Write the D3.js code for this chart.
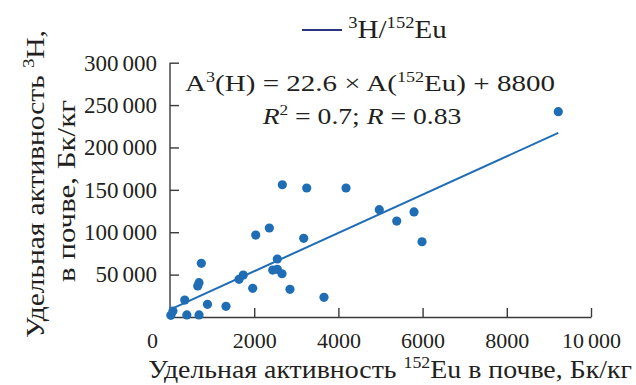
<!doctype html>
<html>
<head>
  <meta charset="utf-8">
  <script src="https://cdnjs.cloudflare.com/ajax/libs/d3/7.8.5/d3.min.js"></script>
</head>
<body style="margin:0">
<script>
// data: 152Eu activity (x) vs 3H activity (y), Bq/kg
var euActivity = [20, 70, 400, 690, 350, 890, 1330, 658, 689, 744, 1640, 1740, 1964, 2036, 2360,
                  2549, 2440, 2549, 2660, 2668, 2850, 3247, 3176, 3658, 4181, 4971, 5385, 5796, 5986, 9223];
var tritiumActivity = [2000, 7000, 2500, 2400, 20000, 15000, 12600, 36600, 40500, 63300, 44500, 49500, 33800, 96700, 105000,
                       68400, 55400, 56300, 51000, 156000, 32700, 152200, 92800, 23200, 152200, 126600, 113200, 123900, 88800, 242200];
var xTicks = [0, 2000, 4000, 6000, 8000, 10000];
var yTicks = [50000, 100000, 150000, 200000, 250000, 300000];
var fitSlope = 22.6, fitIntercept = 8800;
var fitRange = [0, 9223];

var W = 636, H = 385;
var serif = '"Liberation Serif"';
var svg = d3.select('body').append('svg')
    .attr('width', W).attr('height', H);

var x = d3.scaleLinear().domain([0, 10000]).range([170, 591]);
var y = d3.scaleLinear().domain([0, 300000]).range([317, 62.7]);

// axes, ticks pointing inward
var xAxis = svg.append('g').attr('transform', 'translate(0,' + y(0) + ')')
    .call(d3.axisBottom(x).tickValues(xTicks).tickSizeInner(-9).tickSizeOuter(0).tickPadding(15));
var yAxis = svg.append('g').attr('transform', 'translate(' + x(0) + ',0)')
    .call(d3.axisLeft(y).tickValues(yTicks).tickSizeInner(-9).tickSizeOuter(0).tickPadding(13));

// thousands split by a narrow gap, like the print
function splitLabel(sel) {
  sel.selectAll('.tick text').each(function(d){
    var t = d3.select(this), s = String(d);
    t.text(null);
    if (d < 10000) { t.text(s); return; }
    t.append('tspan').text(s.slice(0, s.length - 3));
    t.append('tspan').attr('dx', 4).text(s.slice(-3));
  });
}
[xAxis, yAxis].forEach(function(g){
  g.attr('font-family', serif).attr('font-size', 23);
  g.selectAll('path, line').attr('stroke', '#3a3a3a').attr('stroke-width', 1.4);
  splitLabel(g);
});
xAxis.attr('font-size', 22);
yAxis.select('.domain').attr('d', 'M0,' + y(0) + 'V' + y(300000));
// the single "0" sits left of the corner
xAxis.selectAll('.tick text').filter(function(d){ return d === 0; }).attr('dx', -18);

// regression line
svg.append('line')
    .attr('x1', x(fitRange[0])).attr('y1', y(fitSlope * fitRange[0] + fitIntercept))
    .attr('x2', x(fitRange[1])).attr('y2', y(fitSlope * fitRange[1] + fitIntercept))
    .attr('stroke', '#1f6db5').attr('stroke-width', 2);

// points
var pts = euActivity.map(function(v, i){ return {X: v, Y: tritiumActivity[i]}; });
svg.selectAll('circle').data(pts).enter().append('circle')
    .attr('cx', function(d){ return x(d.X); })
    .attr('cy', function(d){ return y(d.Y); })
    .attr('r', 4.6)
    .attr('fill', '#1f6db5');

// text block helper: centred at (cx, baseline cy), stretched to the printed width
function label(cx, cy, rot, width, size) {
  var t = svg.append('text').attr('x', 0).attr('y', 0)
      .attr('text-anchor', 'middle').attr('font-size', size)
      .style('font-family', serif).attr('fill', '#231f20');
  t.fit = function(){
    var k = width / t.node().getBBox().width;
    t.attr('transform', 'translate(' + cx + ',' + cy + ') rotate(' + rot + ') scale(' + k + ',1)');
    return t;
  };
  return t;
}
function sup(t, s, size) {
  t.append('tspan').attr('font-size', size).attr('dy', -size * 0.62).text(s);
  return t.append('tspan').attr('dy', size * 0.62);
}

// legend
svg.append('line').attr('x1', 302).attr('x2', 342).attr('y1', 30).attr('y2', 30)
    .attr('stroke', '#2b3282').attr('stroke-width', 2.2);
var lg = label(397.5, 38, 0, 99, 25);
sup(lg, '3', 16).text('H/');
sup(lg, '152', 16).text('Eu');
lg.fit();

// equation
var eq1 = label(370, 91, 0, 370, 24);
eq1.append('tspan').text('A');
sup(eq1, '3', 15).text('(H) = 22.6 × A(');
sup(eq1, '152', 15).text('Eu) + 8800');
eq1.fit();

var eq2 = label(362, 124, 0, 200, 24);
eq2.append('tspan').attr('font-style', 'italic').text('R');
sup(eq2, '2', 15).text(' = 0.7; ');
eq2.append('tspan').attr('font-style', 'italic').text('R');
eq2.append('tspan').text(' = 0.83');
eq2.fit();

// axis titles
var xt = label(390, 378, 0, 484, 25);
xt.append('tspan').text('Удельная активность ');
sup(xt, '152', 16).text('Eu в почве, Бк/кг');
xt.fit();

var yt1 = label(44, 184, -90, 308, 25);
yt1.append('tspan').text('Удельная активность ');
sup(yt1, '3', 16).text('H,');
yt1.fit();

var yt2 = label(75, 191, -90, 182, 25);
yt2.text('в почве, Бк/кг');
yt2.fit();

svg.selectAll('g text').style('font-family', serif).attr('fill', '#231f20');
</script>
</body>
</html>
